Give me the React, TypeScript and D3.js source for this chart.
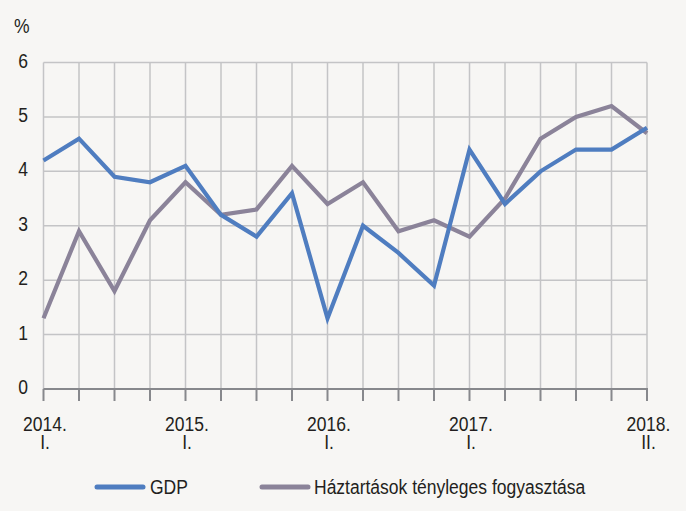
import React from "react";
import * as d3 from "d3";

const quarters = [
  "2014Q1","2014Q2","2014Q3","2014Q4",
  "2015Q1","2015Q2","2015Q3","2015Q4",
  "2016Q1","2016Q2","2016Q3","2016Q4",
  "2017Q1","2017Q2","2017Q3","2017Q4",
  "2018Q1","2018Q2",
];
const gdp = [4.2, 4.6, 3.9, 3.8, 4.1, 3.2, 2.8, 3.6, 1.3, 3.0, 2.5, 1.9, 4.4, 3.4, 4.0, 4.4, 4.4, 4.8];
const consumption = [1.3, 2.9, 1.8, 3.1, 3.8, 3.2, 3.3, 4.1, 3.4, 3.8, 2.9, 3.1, 2.8, 3.5, 4.6, 5.0, 5.2, 4.7];
const yTicks = [0, 1, 2, 3, 4, 5, 6];
const xLabels: { index: number; year: string; q: string }[] = [
  { index: 0, year: "2014.", q: "I." },
  { index: 4, year: "2015.", q: "I." },
  { index: 8, year: "2016.", q: "I." },
  { index: 12, year: "2017.", q: "I." },
  { index: 17, year: "2018.", q: "II." },
];
const seriesNames = ["GDP", "Háztartások tényleges fogyasztása"];
const colors = ["#4f7dc0", "#8b8399"];

const W = 686;
const H = 511;
const FONT = "'Liberation Sans', Arial, sans-serif";
const SX = 0.875;

function T(props: { x: number; y: number; anchor?: string; children: React.ReactNode; size?: number }) {
  return (
    <text
      transform={`translate(${props.x},${props.y}) scale(${SX},1)`}
      textAnchor={props.anchor || "start"}
      fontFamily={FONT}
      fontSize={props.size || 20}
      fill="#231f20"
    >
      {props.children}
    </text>
  );
}

export default function App() {
  const x = d3.scaleLinear().domain([0, quarters.length - 1]).range([43.5, 647]);
  const y = d3.scaleLinear().domain([0, 6]).range([389, 62.5]);
  const line = d3
    .line<number>()
    .x((_, i) => x(i))
    .y((d) => y(d));

  return (
    <svg
      width={W}
      height={H}
      style={{ position: "absolute", left: 0, top: 0, display: "block" }}
    >
      <rect x={0} y={0} width={W} height={H} fill="#f7f6f4" />
      {/* vertical gridlines */}
      {quarters.map((q, i) => (
        <line
          key={"v" + q}
          x1={x(i)}
          x2={x(i)}
          y1={y(6)}
          y2={y(0)}
          stroke="#c4c4c6"
          strokeWidth={1.5}
        />
      ))}
      {/* horizontal gridlines */}
      {yTicks.filter((t) => t > 0).map((t) => (
        <line
          key={"h" + t}
          x1={x(0)}
          x2={x(quarters.length - 1)}
          y1={y(t)}
          y2={y(t)}
          stroke="#c4c4c6"
          strokeWidth={1.5}
        />
      ))}
      {/* x axis */}
      <line x1={x(0)} x2={x(quarters.length - 1) + 1} y1={y(0)} y2={y(0)} stroke="#87888c" strokeWidth={2.2} />
      {quarters.map((q, i) => (
        <line
          key={"t" + q}
          x1={x(i)}
          x2={x(i)}
          y1={y(0)}
          y2={y(0) + 12}
          stroke="#87888c"
          strokeWidth={2}
        />
      ))}
      {/* y labels */}
      {yTicks.map((t) => (
        <T key={"yl" + t} x={28} y={y(t) + 5} anchor="end">
          {t}
        </T>
      ))}
      <T x={14} y={33}>%</T>
      {/* x labels */}
      {xLabels.map((l) => (
        <g key={"xl" + l.index}>
          <T x={x(l.index) + 1.5} y={431} anchor="middle">
            {l.year}
          </T>
          <T x={x(l.index) + 1.5} y={449} anchor="middle">
            {l.q}
          </T>
        </g>
      ))}
      {/* series */}
      <path d={line(consumption) || ""} fill="none" stroke={colors[1]} strokeWidth={4.2} strokeLinejoin="miter" />
      <path d={line(gdp) || ""} fill="none" stroke={colors[0]} strokeWidth={4.2} strokeLinejoin="miter" />
      {/* legend */}
      <line x1={97} x2={143} y1={487} y2={487} stroke={colors[0]} strokeWidth={5} strokeLinecap="round" />
      <T x={150} y={494}>{seriesNames[0]}</T>
      <line x1={262} x2={308} y1={487} y2={487} stroke={colors[1]} strokeWidth={5} strokeLinecap="round" />
      <T x={314} y={494}>{seriesNames[1]}</T>
    </svg>
  );
}
